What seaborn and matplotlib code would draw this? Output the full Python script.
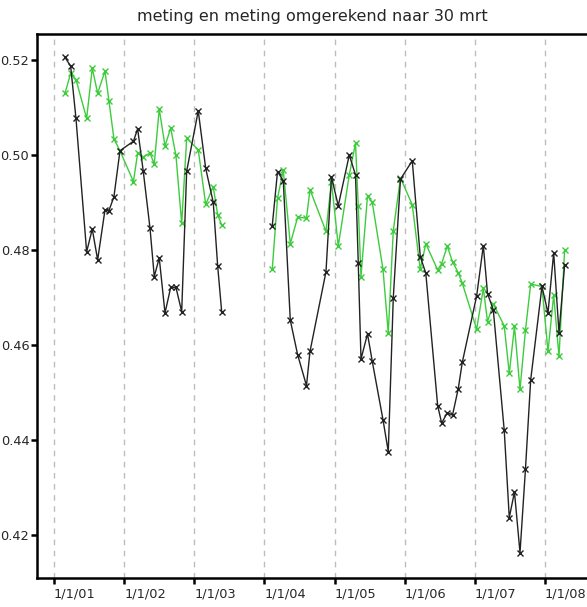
import numpy as np
import pandas as pd
import matplotlib
matplotlib.use("Agg")
import matplotlib.pyplot as plt
import seaborn as sns

# ---- data (decimal years) ----
dates_seg1 = [2001.157, 2001.238, 2001.314, 2001.466, 2001.546, 2001.623, 2001.727, 2001.784,
              2001.855, 2001.941, 2002.133, 2002.193, 2002.273, 2002.369, 2002.430, 2002.501,
              2002.583, 2002.664, 2002.739, 2002.821, 2002.892, 2003.057, 2003.163, 2003.271,
              2003.334, 2003.391]
meting_seg1 = [0.5206, 0.5187, 0.5077, 0.4796, 0.4844, 0.4779, 0.4884, 0.4883, 0.4912, 0.5009,
               0.5029, 0.5055, 0.4966, 0.4846, 0.4744, 0.4783, 0.4667, 0.4721, 0.4721, 0.4670,
               0.4966, 0.5093, 0.4972, 0.4900, 0.4766, 0.4670]
omgerekend_seg1 = [0.5130, 0.5172, 0.5159, 0.5077, 0.5183, 0.5130, 0.5177, 0.5114, 0.5034, 0.5009,
                   0.4944, 0.5004, 0.4996, 0.5004, 0.4981, 0.5097, 0.5019, 0.5057, 0.4999, 0.4856,
                   0.5035, 0.5011, 0.4896, 0.4933, 0.4874, 0.4853]

dates_seg2 = [2004.112, 2004.187, 2004.269, 2004.369, 2004.474, 2004.600, 2004.650, 2004.878,
              2004.956, 2005.053, 2005.210, 2005.299, 2005.338, 2005.377, 2005.470, 2005.538,
              2005.691, 2005.766, 2005.837, 2005.940, 2006.108, 2006.222, 2006.301, 2006.470,
              2006.527, 2006.607, 2006.682, 2006.764, 2006.821, 2007.026, 2007.121, 2007.181,
              2007.263, 2007.419, 2007.491, 2007.565, 2007.644, 2007.722, 2007.796, 2007.957,
              2008.043, 2008.124, 2008.200, 2008.280]
meting_seg2 = [0.4851, 0.4965, 0.4946, 0.4652, 0.4579, 0.4514, 0.4586, 0.4754, 0.4954, 0.4893,
               0.5000, 0.4958, 0.4773, 0.4570, 0.4623, 0.4565, 0.4442, 0.4375, 0.4698, 0.4949,
               0.4988, 0.4786, 0.4751, 0.4472, 0.4435, 0.4457, 0.4452, 0.4508, 0.4563, 0.4703,
               0.4809, 0.4708, 0.4674, 0.4420, 0.4236, 0.4290, 0.4162, 0.4339, 0.4526, 0.4723,
               0.4667, 0.4794, 0.4625, 0.4768]
omgerekend_seg2 = [0.4759, 0.4909, 0.4968, 0.4813, 0.4869, 0.4867, 0.4927, 0.4839, 0.4944, 0.4808,
                   0.4958, 0.5025, 0.4892, 0.4744, 0.4914, 0.4900, 0.4759, 0.4625, 0.4840, 0.4952,
                   0.4895, 0.4759, 0.4813, 0.4758, 0.4771, 0.4808, 0.4775, 0.4752, 0.4730, 0.4633,
                   0.4719, 0.4649, 0.4686, 0.4640, 0.4540, 0.4639, 0.4506, 0.4631, 0.4728, 0.4723,
                   0.4586, 0.4705, 0.4576, 0.4799]

tick_years = [2001, 2002, 2003, 2004, 2005, 2006, 2007, 2008]
tick_labels = ["1/1/01", "1/1/02", "1/1/03", "1/1/04", "1/1/05", "1/1/06", "1/1/07", "1/1/08"]
y_ticks = [0.42, 0.44, 0.46, 0.48, 0.50, 0.52]
title = "meting en meting omgerekend naar 30 mrt"

# ---- build long table ----
rows = []
for seg, (d, m, o) in enumerate([(dates_seg1, meting_seg1, omgerekend_seg1),
                                  (dates_seg2, meting_seg2, omgerekend_seg2)]):
    for x, a, b in zip(d, m, o):
        rows.append({"date": x, "value": a, "serie": "meting", "seg": seg})
        rows.append({"date": x, "value": b, "serie": "omgerekend", "seg": seg})
df = pd.DataFrame(rows)

sns.set_style("white")
plt.rcParams["font.family"] = ["DejaVu Sans"]

fig = plt.figure(figsize=(5.87, 6.07), dpi=100)
ax = fig.add_axes([0.063, 0.048, 0.937, 0.896])

ax.grid(axis="x", color="#bdbdbd", linestyle=(0, (4, 4)), linewidth=1.0)
ax.set_axisbelow(True)

palette = {"meting": "#222222", "omgerekend": "#3dcc3d"}
for serie in ["omgerekend", "meting"]:
    sub = df[df["serie"] == serie]
    sns.lineplot(data=sub, x="date", y="value", units="seg", estimator=None,
                 color=palette[serie], marker="x", markersize=5, markeredgewidth=1.0,
                 markeredgecolor=palette[serie], linewidth=1.0, ax=ax, legend=False,
                 sort=False)

ax.set_xlim(2000.758, 2008.599)
ax.set_ylim(0.4109, 0.5255)
ax.set_xticks(tick_years)
ax.set_xticklabels(tick_labels, ha="left", fontsize=9.3)
ax.set_yticks(y_ticks)
ax.set_yticklabels([f"{v:.2f}" for v in y_ticks], fontsize=9.3)
ax.set_xlabel("")
ax.set_ylabel("")

for s in ["left", "top", "bottom"]:
    ax.spines[s].set_visible(True)
    ax.spines[s].set_linewidth(1.8)
    ax.spines[s].set_color("black")
ax.spines["right"].set_visible(False)

ax.tick_params(axis="y", direction="out", length=4, width=1.8, color="black", pad=1.5, left=True)
ax.tick_params(axis="x", direction="out", length=4, width=1.8, color="black", pad=3, bottom=True)

ax.set_title(title, fontsize=11.5, pad=9)

fig.savefig("out.png", dpi=100)
